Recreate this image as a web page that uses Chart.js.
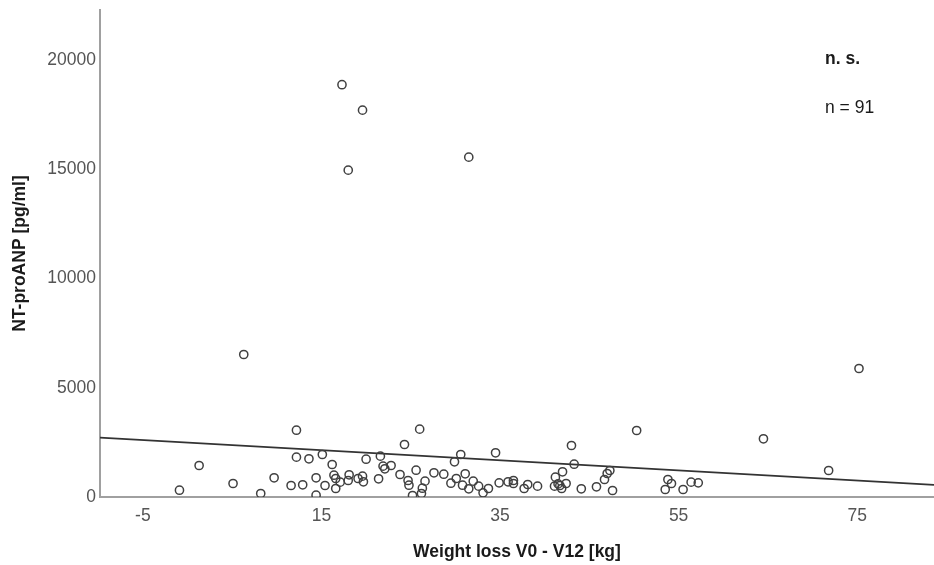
<!DOCTYPE html>
<html>
<head>
<meta charset="utf-8">
<script src="https://cdn.jsdelivr.net/npm/chart.js@4.4.0/dist/chart.umd.min.js"></script>
<style>
  html, body { margin: 0; padding: 0; background: #fff; }
  canvas { display: block; }
</style>
</head>
<body>
<canvas id="scatter-chart" width="934" height="565"></canvas>
<script>
// Weight loss between V0 and V12 (kg)
const weightLoss = [
    -0.9, 1.3, 5.1, 8.2, 9.7, 11.6, 12.2, 12.2,
    26.0, 24.3, 13.6, 15.1, 16.2, 16.4, 16.6, 14.4, 12.9, 14.4, 15.4, 16.6,
    17.1, 18.1, 18.0, 19.1, 19.6, 19.7, 20.0, 21.4, 21.6, 21.9, 22.1, 22.8,
    23.8, 24.7, 24.8, 25.2, 25.6, 26.2, 26.3, 26.6, 27.6, 28.7, 29.5, 29.9,
    30.6, 30.1, 30.8, 31.1, 31.5, 32.0, 32.6,
    50.3, 43.0, 34.5, 43.3, 33.1, 33.7, 34.9, 35.9, 36.5, 36.5, 37.7, 38.1,
    39.2, 41.1, 41.2, 41.7, 42.0, 41.9, 42.4, 44.1, 45.8, 46.7, 47.0, 47.3, 47.6,
    64.5, 71.8, 53.8, 53.5, 54.2, 55.5, 56.4, 57.2,
    6.3, 75.2, 17.3, 19.6, 31.5, 18.0, 41.5
];

// NT-proANP (pg/ml)
const ntProANP = [
    311, 1443, 618, 160, 879, 527, 3059, 1823,
    3105, 2405, 1750, 1946, 1488, 998, 847, 879, 559, 82, 527, 389,
    678, 1017, 756, 847, 953, 696, 1731, 834, 1869, 1411, 1292, 1443,
    1031, 756, 540, 69, 1227, 160, 403, 724, 1108, 1044, 632, 1612,
    1947, 847, 540, 1063, 376, 724, 495,
    3046, 2359, 2024, 1502, 192, 389, 650, 696, 756, 618, 389, 573,
    495, 495, 907, 527, 1154, 389, 618, 376, 467, 802, 1076, 1214, 298,
    2666, 1214, 802, 344, 618, 344, 678, 650,
    6526, 5885, 18879, 17715, 15563, 14967, 600
];

// regression line end points
const fitX = [-9.8, 83.6];
const fitY = [2717, 558];

const xTicks = [-5, 15, 35, 55, 75];
const yTicks = [0, 5000, 10000, 15000, 20000];

const FONT = '"Liberation Sans", Arial, sans-serif';

const points = weightLoss.map((x, i) => ({ x: x, y: ntProANP[i] }));
const fitLine = fitX.map((x, i) => ({ x: x, y: fitY[i] }));

// "n. s." / "n = 91" notes in the top right corner
const notes = {
    id: 'notes',
    afterDraw(chart) {
        const ctx = chart.ctx;
        ctx.save();
        ctx.fillStyle = '#1a1a1a';
        ctx.textAlign = 'left';
        ctx.textBaseline = 'middle';
        ctx.font = 'bold 17.5px ' + FONT;
        ctx.fillText('n. s.', 825, 59);
        ctx.font = '17.5px ' + FONT;
        ctx.fillText('n = ' + points.length, 825, 108);
        ctx.restore();
    }
};

const config = {
    type: 'scatter',
    data: {
        datasets: [
            {
                label: 'NT-proANP',
                data: points,
                pointRadius: 4.1,
                pointBorderWidth: 1.5,
                pointBorderColor: '#404040',
                pointBackgroundColor: 'rgba(0,0,0,0)',
                order: 1
            },
            {
                type: 'line',
                label: 'Fit',
                data: fitLine,
                borderColor: '#333333',
                borderWidth: 1.8,
                pointRadius: 0,
                fill: false,
                order: 2
            }
        ]
    },
    options: {
        responsive: false,
        animation: false,
        devicePixelRatio: 1,
        layout: { autoPadding: false, padding: { left: 0, right: 0, top: 10, bottom: 0 } },
        plugins: {
            legend: { display: false },
            tooltip: { enabled: false }
        },
        scales: {
            x: {
                type: 'linear',
                min: -9.8,
                max: 83.6,
                afterBuildTicks: s => { s.ticks = xTicks.map(v => ({ value: v })); },
                afterFit: s => { s.height = 68; s.paddingLeft = 0; s.paddingRight = 0; },
                grid: { display: false, drawTicks: false },
                border: { color: '#a0a0a0', width: 2 },
                ticks: {
                    padding: 9,
                    color: '#555555',
                    font: { family: FONT, size: 17.5 },
                    callback: v => String(v)
                },
                title: {
                    display: true,
                    text: 'Weight loss V0 - V12 [kg]',
                    color: '#1a1a1a',
                    font: { family: FONT, size: 17.5, weight: 'bold' },
                    padding: { top: 0, bottom: 2.5 }
                }
            },
            y: {
                type: 'linear',
                min: 0,
                max: 22300,
                afterBuildTicks: s => { s.ticks = yTicks.map(v => ({ value: v })); },
                afterFit: s => { s.width = 100; s.paddingTop = 0; s.paddingBottom = 0; },
                grid: { display: false, drawTicks: false },
                border: { color: '#a0a0a0', width: 2 },
                ticks: {
                    padding: 4,
                    color: '#555555',
                    font: { family: FONT, size: 17.5 },
                    callback: v => String(v)
                },
                title: {
                    display: true,
                    text: 'NT-proANP [pg/ml]',
                    color: '#1a1a1a',
                    font: { family: FONT, size: 17.5, weight: 'bold' },
                    padding: { top: 10, bottom: 0 }
                }
            }
        }
    },
    plugins: [notes]
};

new Chart(document.getElementById('scatter-chart').getContext('2d'), config);
</script>
</body>
</html>
